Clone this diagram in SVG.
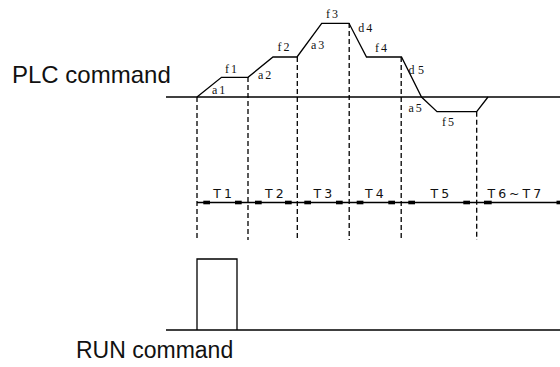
<svg xmlns="http://www.w3.org/2000/svg" width="560" height="367" viewBox="0 0 560 367">
<style>
.ln{fill:none;stroke:#000;stroke-width:1.3}
.ds{fill:none;stroke:#000;stroke-width:1.3;stroke-dasharray:5,3}
.big{font-family:"Liberation Sans",Arial,sans-serif;fill:#111}
.lb{font-family:"Liberation Serif","Times New Roman",serif;font-size:12px;fill:#111;letter-spacing:2px}
.tl{font-family:"DejaVu Sans",sans-serif;font-size:12.5px;fill:#111;letter-spacing:3px}
.mk{fill:#000}
</style>
<rect width="560" height="367" fill="#fff"/>
<g id="plc-label"><text class="big" x="12" y="83" font-size="24">PLC command</text></g>
<g id="run-label"><text class="big" x="76" y="358" font-size="23">RUN command</text></g>
<g id="connectors">
<line class="ln" x1="166" y1="97" x2="560" y2="97"/>
<polyline class="ln" points="197,97 221.5,77.3 248,77.3 273,57 297,57 321.7,23.3 349,23.3 366.5,57 401.5,57 421.5,97 437,111.7 476.7,111.7 488,97"/>
<line class="ds" x1="197" y1="97" x2="197" y2="240"/>
<line class="ds" x1="248" y1="77" x2="248" y2="240"/>
<line class="ds" x1="297.3" y1="57" x2="297.3" y2="240"/>
<line class="ds" x1="349.2" y1="23" x2="349.2" y2="240"/>
<line class="ds" x1="401.2" y1="57" x2="401.2" y2="240"/>
<line class="ds" x1="476.7" y1="111.7" x2="476.7" y2="240"/>
<line class="ln" x1="197" y1="202.5" x2="560" y2="202.5"/>
<g class="mk">
<rect x="203.3" y="200.7" width="6.7" height="3.6"/>
<rect x="235" y="200.7" width="6.7" height="3.6"/>
<rect x="255" y="200.7" width="6.7" height="3.6"/>
<rect x="285" y="200.7" width="6.7" height="3.6"/>
<rect x="304.3" y="200.7" width="6.7" height="3.6"/>
<rect x="336" y="200.7" width="6.7" height="3.6"/>
<rect x="356.7" y="200.7" width="6.7" height="3.6"/>
<rect x="388.3" y="200.7" width="6.7" height="3.6"/>
<rect x="408.3" y="200.7" width="6.7" height="3.6"/>
<rect x="463.3" y="200.7" width="6.7" height="3.6"/>
<rect x="484" y="200.7" width="7.7" height="3.6"/>
<rect x="556.5" y="200.7" width="4" height="3.6"/>
</g>
<line class="ln" x1="166" y1="330" x2="560" y2="330"/>
<polyline class="ln" points="197,330 197,259 237,259 237,330"/>
</g>
<g id="plc-labels">
<text class="lb" x="225" y="73">f1</text>
<text class="lb" x="212" y="93.5">a1</text>
<text class="lb" x="277.5" y="51">f2</text>
<text class="lb" x="258" y="78.5">a2</text>
<text class="lb" x="326" y="17.5">f3</text>
<text class="lb" x="311" y="48.5">a3</text>
<text class="lb" x="358.3" y="32">d4</text>
<text class="lb" x="375" y="52">f4</text>
<text class="lb" x="408.5" y="74" style="letter-spacing:3.5px">d5</text>
<text class="lb" x="408.5" y="111.5">a5</text>
<text class="lb" x="442" y="126">f5</text>
</g>
<g id="time-labels">
<text class="tl" x="213.3" y="198.3">T1</text>
<text class="tl" x="265" y="198.3">T2</text>
<text class="tl" x="313.5" y="198.3">T3</text>
<text class="tl" x="365" y="198.3">T4</text>
<text class="tl" x="430.5" y="198.3">T5</text>
<text class="tl" x="487.5" y="198.3">T6~T7</text>
</g>
</svg>
